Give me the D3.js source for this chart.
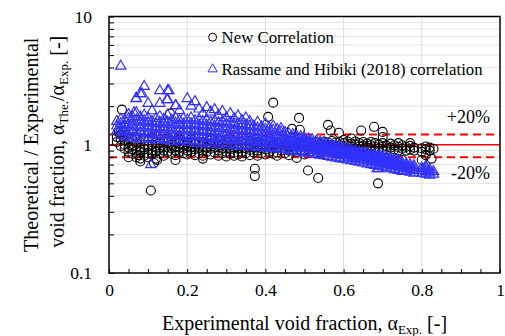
<!DOCTYPE html>
<html>
<head>
<meta charset="utf-8">
<script src="https://cdn.jsdelivr.net/npm/d3@7"></script>
<style>
  body { margin: 0; background: #fff; }
  svg { font-family: "Liberation Serif", "Times New Roman", serif; }
</style>
</head>
<body>
<div class="chart"></div>
<script>
// ticks
const xTicks = [0, 0.2, 0.4, 0.6, 0.8, 1];
const yTicks = [0.1, 1, 10];
const bandLines = [1.2, 1, 0.8];

// New Correlation: [x, list of ratios]
const circleCols = [
  [0.02, [1.05, 1.15]], [0.03, [0.98, 1.1, 1.2]], [0.04, [1.0, 1.08, 0.93]],
  [0.05, [0.95, 1.05, 1.12, 0.88]], [0.06, [0.85, 0.98, 1.1, 0.92]], [0.07, [0.8, 0.9, 1.02, 1.15]],
  [0.08, [0.78, 0.95, 1.05, 0.88]], [0.09, [0.82, 0.92, 1.0, 1.12]], [0.10, [0.86, 0.97, 1.08, 0.8]],
  [0.11, [0.9, 1.0, 0.84, 1.15]], [0.12, [0.88, 0.95, 1.04, 0.78]], [0.13, [0.85, 0.93, 1.02, 1.1]],
  [0.14, [0.9, 0.98, 1.06, 0.82]], [0.15, [0.88, 0.96, 1.04, 1.12]], [0.16, [0.85, 0.94, 1.0, 1.08]],
  [0.17, [0.9, 0.97, 1.05, 0.83]], [0.18, [0.88, 0.95, 1.02, 1.1]], [0.19, [0.86, 0.93, 1.0, 1.06]],
  [0.20, [0.9, 0.98, 1.04, 0.84]], [0.21, [0.88, 0.95, 1.02, 1.1]], [0.22, [0.83, 0.92, 1.0, 1.06]],
  [0.23, [0.86, 0.94, 1.03]], [0.24, [0.9, 0.97, 1.05, 0.82]], [0.25, [0.88, 0.95, 1.02]],
  [0.26, [0.84, 0.93, 1.0, 1.08]], [0.27, [0.87, 0.96, 1.04]], [0.28, [0.82, 0.9, 0.98, 1.06]],
  [0.29, [0.86, 0.94, 1.02]], [0.30, [0.88, 0.96, 1.04, 0.81]], [0.31, [0.85, 0.92, 1.0]],
  [0.32, [0.87, 0.95, 1.03, 0.82]], [0.33, [0.84, 0.93, 1.01]], [0.34, [0.88, 0.96, 1.05, 0.81]],
  [0.35, [0.86, 0.94, 1.02]], [0.36, [0.83, 0.91, 0.99, 1.07]], [0.37, [0.87, 0.95, 1.03]],
  [0.38, [0.82, 0.9, 0.98, 1.05]], [0.39, [0.86, 0.94, 1.01]], [0.40, [0.84, 0.92, 1.0, 1.08]],
  [0.41, [0.88, 0.96, 1.04]], [0.42, [0.85, 0.93, 1.01]], [0.43, [0.87, 0.95, 1.03, 0.82]],
  [0.44, [0.9, 0.98, 1.06]], [0.45, [0.86, 0.94, 1.02]], [0.46, [0.9, 0.97, 1.05, 0.83]],
  [0.47, [0.92, 0.99, 1.07]], [0.48, [0.88, 0.96, 1.03]], [0.49, [0.91, 0.98, 1.05]],
  [0.50, [0.9, 0.97, 1.04, 0.84]], [0.51, [0.92, 0.99, 1.06]], [0.52, [0.89, 0.96, 1.03]],
  [0.53, [0.91, 0.98, 1.05]], [0.54, [0.88, 0.95, 1.02]], [0.55, [0.92, 0.99, 1.06]],
  [0.56, [0.9, 0.97, 1.04]], [0.57, [0.93, 1.0, 1.07]], [0.58, [0.9, 0.97, 1.04]],
  [0.59, [0.92, 0.99, 1.05]], [0.60, [0.89, 0.96, 1.03]], [0.61, [0.92, 0.99, 1.06]],
  [0.62, [0.9, 0.96, 1.02]], [0.63, [0.93, 1.0, 1.06]], [0.64, [0.9, 0.97, 1.03]],
  [0.65, [0.92, 0.98, 1.05]], [0.66, [0.89, 0.95, 1.02]], [0.67, [0.92, 0.99, 1.05]],
  [0.68, [0.9, 0.96, 1.03]], [0.69, [0.93, 1.0]], [0.70, [0.9, 0.96, 1.03]],
  [0.71, [0.92, 0.98]], [0.72, [0.89, 0.95, 1.02]], [0.73, [0.92, 0.99]],
  [0.74, [0.9, 0.96, 1.03]], [0.75, [0.93, 0.99]], [0.76, [0.9, 0.96]],
  [0.77, [0.92, 0.98, 1.03]], [0.78, [0.9, 0.95]], [0.80, [0.88, 0.94]],
  [0.81, [0.92, 0.97]], [0.82, [0.9, 0.95]], [0.83, [0.93]]
];
const circleExtra = [
  [0.033, 1.88], [0.025, 1.25], [0.107, 0.44], [0.123, 0.76], [0.115, 0.72], [0.156, 1.75],
  [0.42, 2.13], [0.407, 1.65], [0.373, 0.65], [0.373, 0.57], [0.468, 1.33], [0.486, 1.62],
  [0.488, 1.31], [0.509, 0.63], [0.535, 0.55], [0.56, 1.43], [0.567, 1.29], [0.588, 1.24],
  [0.645, 1.29], [0.678, 1.38], [0.70, 1.26], [0.70, 1.15], [0.688, 0.5], [0.75, 0.76],
  [0.80, 0.76], [0.81, 0.83], [0.825, 0.78], [0.48, 0.79], [0.6, 1.09], [0.62, 1.12],
  [0.05, 0.8], [0.08, 0.74], [0.045, 1.2], [0.24, 0.78], [0.17, 0.76], [0.075, 0.83]
];

// Rassame and Hibiki (2018): [x, list of ratios]
const triCols = [
  [0.02, [1.28, 1.4, 1.52]], [0.03, [1.2, 1.33, 1.46, 1.58, 4.1]], [0.04, [1.15, 1.3, 1.42, 1.55]],
  [0.05, [1.18, 1.3, 1.44, 1.6, 1.72]], [0.06, [1.12, 1.26, 1.38, 1.5, 1.65]],
  [0.07, [1.15, 1.28, 1.42, 1.56, 1.78, 2.3]], [0.08, [1.1, 1.24, 1.36, 1.5, 1.64, 2.5]],
  [0.09, [1.14, 1.27, 1.4, 1.54, 1.7, 2.85]], [0.10, [1.1, 1.22, 1.35, 1.48, 1.62, 2.1]],
  [0.11, [1.12, 1.25, 1.38, 1.52, 1.84]], [0.12, [1.08, 1.2, 1.33, 1.46, 1.6]],
  [0.13, [1.12, 1.24, 1.37, 1.5, 1.66, 2.1, 2.64]], [0.14, [1.08, 1.2, 1.32, 1.45, 1.58]],
  [0.15, [1.1, 1.23, 1.36, 1.5, 1.7, 2.25, 2.64]], [0.16, [1.06, 1.18, 1.3, 1.43, 1.56]],
  [0.17, [1.1, 1.22, 1.35, 1.48, 1.62, 2.02]], [0.18, [1.05, 1.17, 1.3, 1.42, 1.55, 1.85]],
  [0.19, [1.08, 1.2, 1.32, 1.45, 1.6]], [0.20, [1.04, 1.16, 1.28, 1.42, 1.56, 2.29]],
  [0.21, [1.08, 1.2, 1.33, 1.46, 1.62, 2.0]], [0.22, [1.03, 1.15, 1.27, 1.4, 1.54, 2.17]],
  [0.23, [1.06, 1.18, 1.3, 1.43, 1.58, 1.9]], [0.24, [1.02, 1.14, 1.26, 1.38, 1.52, 1.75]],
  [0.25, [1.05, 1.17, 1.29, 1.42, 1.56, 1.95]], [0.26, [1.0, 1.12, 1.24, 1.36, 1.5, 1.8]],
  [0.27, [1.04, 1.15, 1.27, 1.4, 1.55, 1.88]], [0.28, [1.0, 1.11, 1.22, 1.34, 1.48, 1.7]],
  [0.29, [1.03, 1.14, 1.25, 1.38, 1.52, 1.82]], [0.30, [0.99, 1.1, 1.2, 1.32, 1.45, 1.62]],
  [0.31, [1.02, 1.12, 1.23, 1.35, 1.5, 1.75]], [0.32, [0.98, 1.08, 1.19, 1.3, 1.42, 1.6]],
  [0.33, [1.0, 1.1, 1.21, 1.32, 1.46, 1.68]], [0.34, [0.97, 1.07, 1.17, 1.28, 1.4, 1.55]],
  [0.35, [1.0, 1.09, 1.19, 1.3, 1.43, 1.62]], [0.36, [0.96, 1.05, 1.15, 1.26, 1.38, 1.52]],
  [0.37, [0.98, 1.07, 1.17, 1.28, 1.4]], [0.38, [0.95, 1.04, 1.13, 1.24, 1.35, 1.5]],
  [0.39, [0.97, 1.06, 1.15, 1.26, 1.38]], [0.40, [0.94, 1.02, 1.11, 1.21, 1.32, 1.45]],
  [0.41, [0.96, 1.04, 1.13, 1.23, 1.35]], [0.42, [0.93, 1.01, 1.09, 1.18, 1.3, 1.4]],
  [0.43, [0.95, 1.03, 1.11, 1.2, 1.32]], [0.44, [0.92, 1.0, 1.08, 1.16, 1.26, 1.34]],
  [0.45, [0.93, 1.0, 1.07, 1.15, 1.25]], [0.46, [0.9, 0.97, 1.04, 1.12, 1.22]],
  [0.47, [0.91, 0.98, 1.05, 1.13, 1.2]], [0.48, [0.88, 0.95, 1.02, 1.09, 1.17]],
  [0.49, [0.89, 0.96, 1.03, 1.1, 1.16]], [0.50, [0.86, 0.93, 1.0, 1.07, 1.13]],
  [0.51, [0.87, 0.93, 0.99, 1.05, 1.11]], [0.52, [0.85, 0.91, 0.97, 1.03, 1.09]],
  [0.53, [0.84, 0.9, 0.96, 1.02, 1.07]], [0.54, [0.83, 0.89, 0.95, 1.0, 1.05]],
  [0.55, [0.82, 0.88, 0.93, 0.98, 1.03]], [0.56, [0.81, 0.86, 0.91, 0.96, 1.01]],
  [0.57, [0.8, 0.85, 0.9, 0.95, 0.99]], [0.58, [0.79, 0.84, 0.89, 0.94, 0.98]],
  [0.59, [0.78, 0.83, 0.87, 0.92, 0.96]], [0.60, [0.77, 0.82, 0.86, 0.9, 0.94]],
  [0.61, [0.76, 0.8, 0.84, 0.88, 0.93]], [0.62, [0.75, 0.79, 0.83, 0.87, 0.91]],
  [0.63, [0.74, 0.78, 0.82, 0.86, 0.9]], [0.64, [0.73, 0.77, 0.81, 0.85, 0.88]],
  [0.65, [0.72, 0.76, 0.8, 0.84, 0.87]], [0.66, [0.71, 0.75, 0.79, 0.82, 0.86]],
  [0.67, [0.7, 0.74, 0.78, 0.81, 0.84]], [0.68, [0.69, 0.73, 0.77, 0.8, 0.83]],
  [0.69, [0.65, 0.68, 0.72, 0.76, 0.79, 0.82]], [0.70, [0.67, 0.71, 0.75, 0.78, 0.81]],
  [0.71, [0.66, 0.7, 0.73, 0.77, 0.8]], [0.72, [0.65, 0.69, 0.72, 0.75, 0.78]],
  [0.73, [0.64, 0.68, 0.71, 0.74, 0.77]], [0.74, [0.63, 0.67, 0.7, 0.73, 0.76]],
  [0.75, [0.62, 0.66, 0.69, 0.72]], [0.76, [0.62, 0.65, 0.68, 0.71]],
  [0.77, [0.61, 0.64, 0.67, 0.7]], [0.78, [0.6, 0.63, 0.66, 0.69]],
  [0.80, [0.6, 0.63, 0.66]], [0.81, [0.59, 0.62, 0.65, 0.68]],
  [0.82, [0.58, 0.61, 0.64]], [0.83, [0.59, 0.62]]
];
const triExtra = [
  [0.107, 0.70], [0.084, 2.5], [0.069, 2.29], [0.064, 1.78], [0.148, 2.25], [0.171, 2.02],
  [0.153, 2.64], [0.686, 0.65], [0.036, 1.25]
];

// flatten into points
function toPoints(cols, extra) {
  return cols.flatMap(([x, vs]) => vs.map(v => ({ x: x, v: v })))
    .concat(extra.map(d => ({ x: d[0], v: d[1] })));
}

function setupCanvas(circles, triangles) {
  const svg_width = 505;
  const svg_height = 336;
  const margin = { top: 16.5, right: 5, bottom: 63, left: 109 };
  const width = svg_width - margin.left - margin.right;
  const height = svg_height - margin.top - margin.bottom;

  const svg = d3.select('.chart').append('svg')
    .attr('width', svg_width).attr('height', svg_height);
  const g = svg.append('g').attr('transform', `translate(${margin.left},${margin.top})`);

  const xScale = d3.scaleLinear().domain([0, 1]).range([0, width]);
  const yScale = d3.scaleLog().domain([0.1, 10]).range([height, 0]);
  const isDecade = d => Math.abs(Math.log10(d) - Math.round(Math.log10(d))) < 1e-6;

  // grid
  g.append('g').selectAll('line').data(yScale.ticks()).enter().append('line')
    .attr('x1', 0).attr('x2', width)
    .attr('y1', d => yScale(d)).attr('y2', d => yScale(d))
    .style('stroke', '#e4e4e4').style('stroke-width', 1);
  g.append('g').selectAll('line').data(xTicks.slice(1, -1)).enter().append('line')
    .attr('x1', d => xScale(d)).attr('x2', d => xScale(d))
    .attr('y1', 0).attr('y2', height)
    .style('stroke', '#dcdcdc').style('stroke-width', 1);

  // +-20% band
  g.append('g').selectAll('line').data(bandLines).enter().append('line')
    .attr('x1', 0).attr('x2', width)
    .attr('y1', d => yScale(d)).attr('y2', d => yScale(d))
    .style('stroke', '#ff0000')
    .style('stroke-width', d => d === 1 ? 1.5 : 2)
    .style('stroke-dasharray', d => d === 1 ? null : '8,5');

  // points
  g.append('g').selectAll('circle').data(circles).enter().append('circle')
    .attr('cx', d => xScale(d.x)).attr('cy', d => yScale(d.v)).attr('r', 4.5)
    .style('fill', 'none').style('stroke', '#000').style('stroke-width', 1.1);

  const tri = d3.symbol(d3.symbolTriangle, 46);
  g.append('g').selectAll('path').data(triangles).enter().append('path')
    .attr('d', tri)
    .attr('transform', d => `translate(${xScale(d.x)},${yScale(d.v)})`)
    .style('fill', 'none').style('stroke', '#3030ff').style('stroke-width', 1.15);

  // axes
  const xAxis = d3.axisBottom(xScale).tickValues(d3.range(0, 1.001, 0.05))
    .tickSize(-4).tickPadding(11)
    .tickFormat(d => xTicks.some(t => Math.abs(t - d) < 1e-6) ? d3.format('~g')(d) : '');
  g.append('g').attr('class', 'x axis')
    .attr('transform', `translate(0,${height})`).call(xAxis);

  const yAxis = d3.axisLeft(yScale).tickValues(yScale.ticks())
    .tickSize(-5).tickPadding(17)
    .tickFormat(d => isDecade(d) ? d3.format('~g')(d) : '');
  g.append('g').attr('class', 'y axis').call(yAxis);

  g.selectAll('.axis .domain').remove();
  g.selectAll('.axis line').style('stroke', '#000');
  g.selectAll('.axis text').style('font-size', '17.5px').style('fill', '#000')
    .style('font-family', '"Liberation Serif", serif');

  // frame
  g.append('rect').attr('width', width).attr('height', height)
    .style('fill', 'none').style('stroke', '#000').style('stroke-width', 1.5);

  // band labels
  g.append('text').attr('x', width - 10).attr('y', yScale(1.2) - 12)
    .attr('text-anchor', 'end').style('font-size', '18px').text('+20%');
  g.append('text').attr('x', width - 10).attr('y', yScale(0.8) + 22)
    .attr('text-anchor', 'end').style('font-size', '18px').text('-20%');

  // legend
  const legend = g.append('g').attr('transform', `translate(${xScale(0.265)},${yScale(6.9)})`);
  legend.append('circle').attr('r', 4).style('fill', 'none').style('stroke', '#000');
  legend.append('text').attr('x', 9).attr('y', 6).style('font-size', '16.8px').text('New Correlation');
  legend.append('path').attr('d', d3.symbol(d3.symbolTriangle, 38))
    .attr('transform', 'translate(0,32)')
    .style('fill', 'none').style('stroke', '#3030ff');
  legend.append('text').attr('x', 9).attr('y', 38).style('font-size', '16.8px')
    .text('Rassame and Hibiki (2018) correlation');

  // x title
  const xt = svg.append('text').attr('x', margin.left + width / 2).attr('y', 330)
    .attr('text-anchor', 'middle').style('font-size', '20px');
  xt.append('tspan').text('Experimental void fraction,  α');
  xt.append('tspan').attr('dy', 4).style('font-size', '13px').text('Exp.');
  xt.append('tspan').attr('dy', -4).text(' [-]');

  // y title
  const yt = svg.append('text').attr('transform', `translate(38,${margin.top + height / 2}) rotate(-90)`)
    .attr('text-anchor', 'middle').style('font-size', '20px');
  yt.append('tspan').attr('x', 0).attr('y', 0).text('Theoretical / Experimental');
  const yt2 = svg.append('text').attr('transform', `translate(64,${margin.top + height / 2 - 3}) rotate(-90)`)
    .attr('text-anchor', 'middle').style('font-size', '20px');
  yt2.append('tspan').text('void fraction,  α');
  yt2.append('tspan').attr('dy', 4).style('font-size', '13px').text('The.');
  yt2.append('tspan').attr('dy', -4).text('/α');
  yt2.append('tspan').attr('dy', 4).style('font-size', '13px').text('Exp.');
  yt2.append('tspan').attr('dy', -4).text(' [-]');
}

function ready() {
  setupCanvas(toPoints(circleCols, circleExtra), toPoints(triCols, triExtra));
}

ready();
</script>
</body>
</html>
